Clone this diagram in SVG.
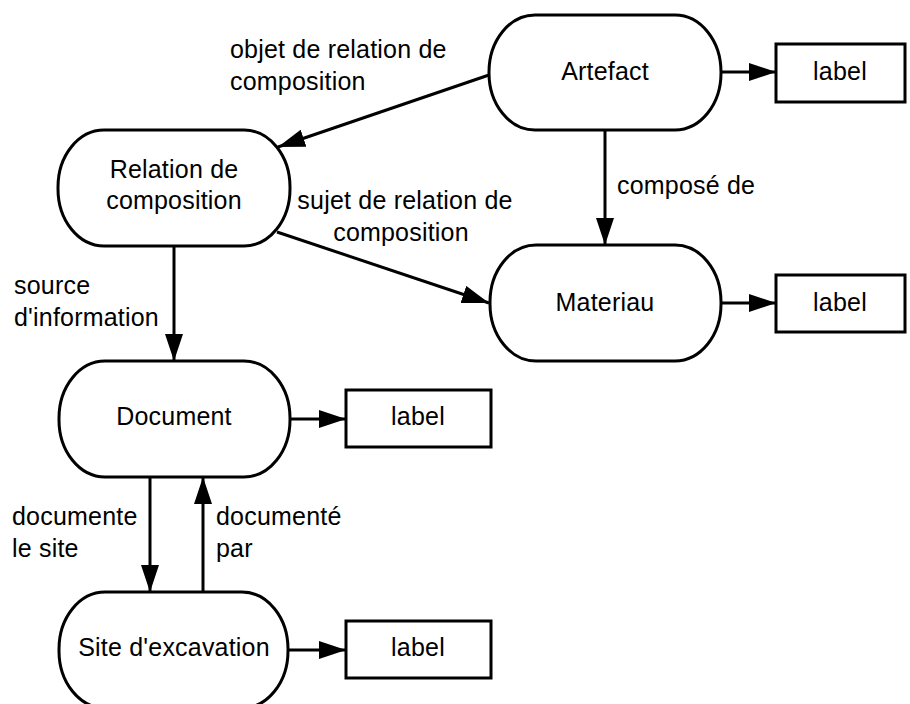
<svg xmlns="http://www.w3.org/2000/svg" width="910" height="704" viewBox="0 0 910 704">
  <style>
    .term { fill: #ffffff; stroke: #000000; stroke-width: 3; }
    .box { fill: #ffffff; stroke: #000000; stroke-width: 3; }
    .edge { fill: none; stroke: #000000; stroke-width: 3; marker-end: url(#arrow); }
    text { font-family: "Liberation Sans", Arial, sans-serif; font-size: 25px; fill: #000000; letter-spacing: 0.2px; }
    .c { text-anchor: middle; }
  </style>
  <defs>
    <marker id="arrow" markerUnits="userSpaceOnUse" markerWidth="28" markerHeight="20" refX="27" refY="9" orient="auto">
      <path d="M0,0 L27,9 L0,18 Z" fill="#000000"/>
    </marker>
  </defs>

  <!-- connectors and their labels -->
  <g id="connectors">
    <line class="edge" x1="721" y1="72" x2="776" y2="72"/>
    <line class="edge" x1="605" y1="130" x2="605" y2="245"/>
    <line class="edge" x1="489" y1="75" x2="278" y2="147"/>
    <line class="edge" x1="277" y1="232" x2="489" y2="303"/>
    <line class="edge" x1="721" y1="303" x2="776" y2="303"/>
    <line class="edge" x1="174" y1="246" x2="174" y2="361"/>
    <line class="edge" x1="290" y1="419" x2="346" y2="419"/>
    <line class="edge" x1="150" y1="477" x2="150" y2="592"/>
    <line class="edge" x1="203" y1="592" x2="203" y2="477"/>
    <line class="edge" x1="288" y1="650" x2="346" y2="650"/>

    <text x="230" y="58">objet de relation de</text>
    <text x="230" y="90">composition</text>
    <text class="c" x="405" y="209">sujet de relation de</text>
    <text class="c" x="401" y="241">composition</text>
    <text x="617" y="194">composé de</text>
    <text x="14" y="294">source</text>
    <text x="14" y="326">d'information</text>
    <text x="12" y="525">documente</text>
    <text x="12" y="557">le site</text>
    <text x="216" y="525">documenté</text>
    <text x="216" y="557">par</text>
  </g>

  <!-- nodes -->
  <g id="artefact">
    <rect class="term" x="489" y="15" width="232" height="115" rx="46" ry="57"/>
    <text class="c" x="605" y="80">Artefact</text>
  </g>
  <g id="artefact-label">
    <rect class="box" x="776" y="44" width="129" height="58"/>
    <text class="c" x="840" y="80">label</text>
  </g>
  <g id="relation">
    <rect class="term" x="58" y="130" width="232" height="116" rx="46" ry="57"/>
    <text class="c" x="174" y="178">Relation de</text>
    <text class="c" x="174" y="209">composition</text>
  </g>
  <g id="materiau">
    <rect class="term" x="490" y="245" width="231" height="116" rx="46" ry="57"/>
    <text class="c" x="605" y="311">Materiau</text>
  </g>
  <g id="materiau-label">
    <rect class="box" x="776" y="275" width="129" height="57"/>
    <text class="c" x="840" y="311">label</text>
  </g>
  <g id="document">
    <rect class="term" x="59" y="361" width="231" height="116" rx="46" ry="57"/>
    <text class="c" x="174" y="425">Document</text>
  </g>
  <g id="document-label">
    <rect class="box" x="346" y="390" width="145" height="57"/>
    <text class="c" x="418" y="425">label</text>
  </g>
  <g id="site">
    <rect class="term" x="59" y="592" width="229" height="116" rx="46" ry="57"/>
    <text class="c" x="174" y="656">Site d'excavation</text>
  </g>
  <g id="site-label">
    <rect class="box" x="346" y="621" width="145" height="57"/>
    <text class="c" x="418" y="656">label</text>
  </g>
</svg>
